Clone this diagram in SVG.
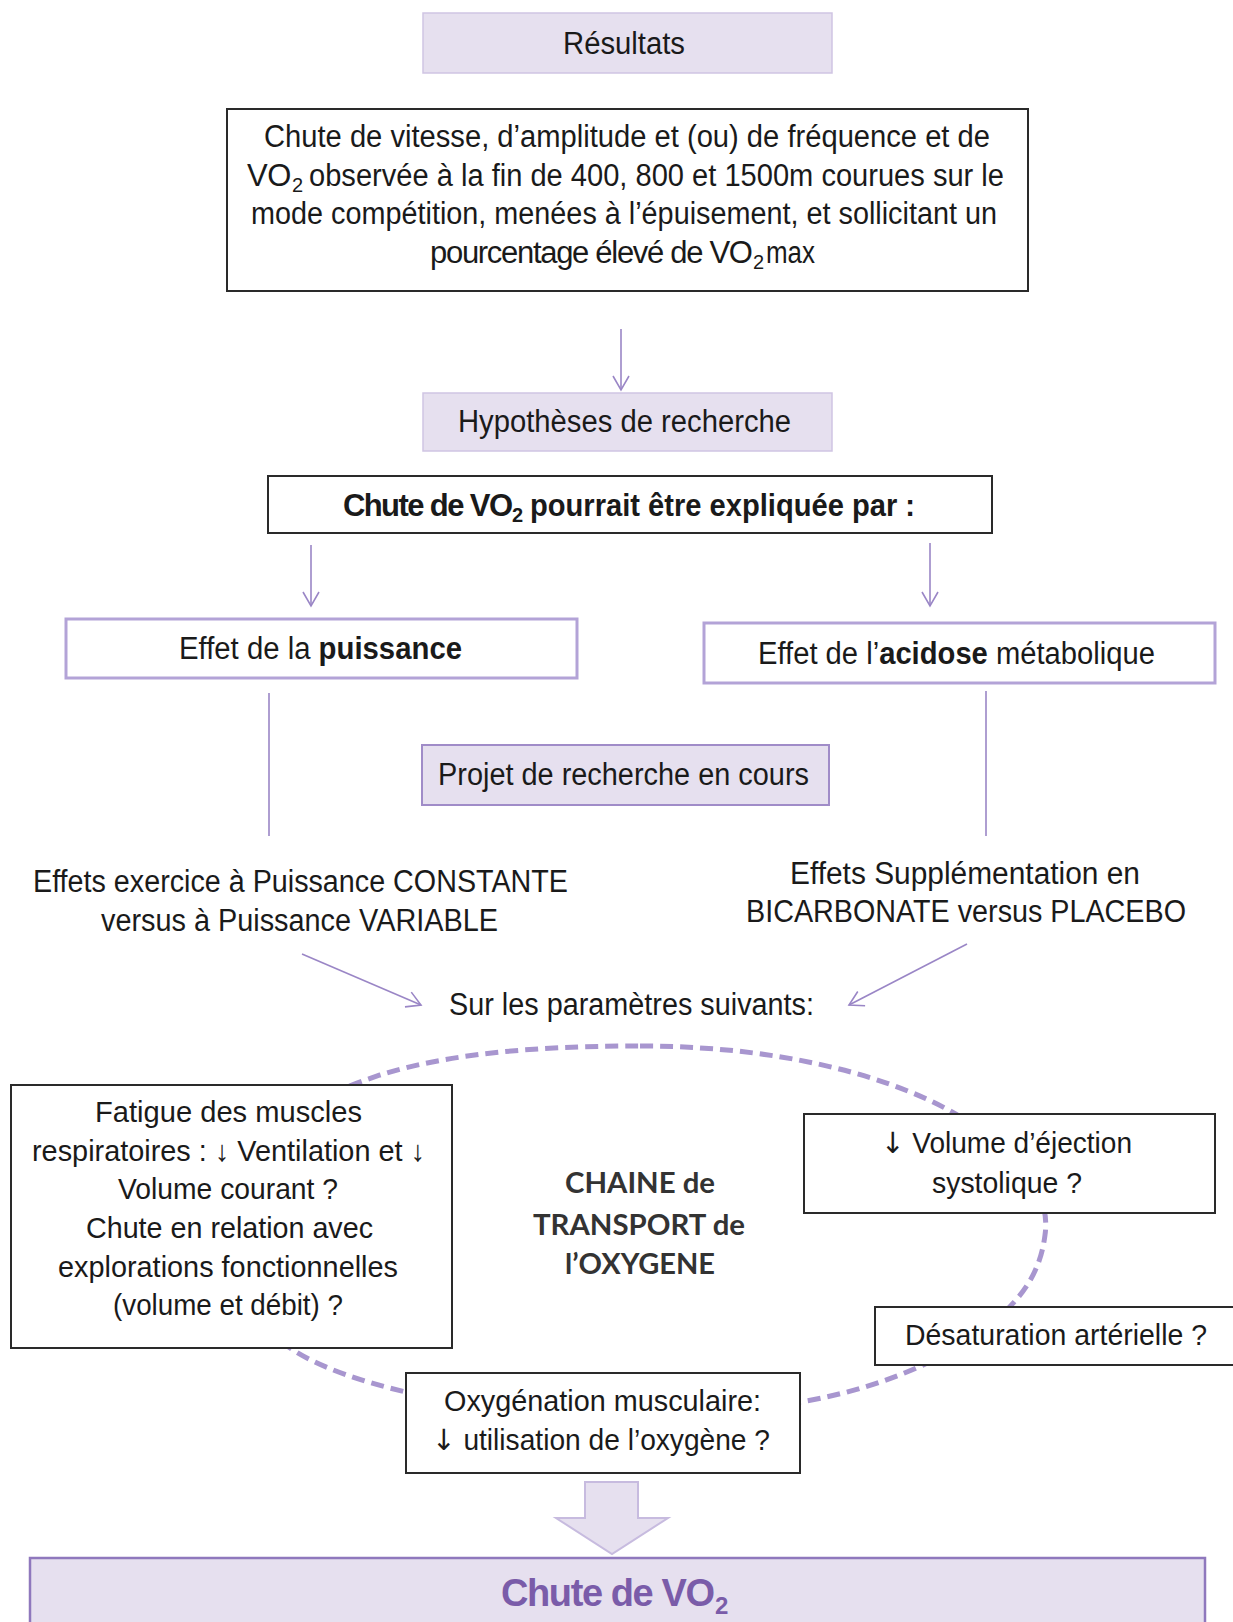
<svg xmlns="http://www.w3.org/2000/svg" width="1233" height="1622" viewBox="0 0 1233 1622">
<defs>
<style>
.t{font-family:"Liberation Sans",Arial,sans-serif;fill:#1a1a1a;font-size:31px}
.s{font-size:29px}
.sub{font-family:"Liberation Sans",Arial,sans-serif;fill:#1a1a1a;font-size:20px}
.b{font-weight:bold}
.ar{font-family:"DejaVu Sans",sans-serif}
.lav{fill:#e6e0ef;stroke:#cfc5e3;stroke-width:1.5}
.lavp{fill:#e6e0ef;stroke:#a08cc8;stroke-width:2}
.pbox{fill:#fff;stroke:#b3a3d7;stroke-width:3}
.kbox{fill:#fff;stroke:#2a2a2a;stroke-width:2}
.con{stroke:#9a86c6;stroke-width:1.6;fill:none}
.dash{stroke:#a896cf;stroke-width:5;fill:none;stroke-dasharray:13 7}
.ch{font-family:Lato,"Open Sans",sans-serif;font-size:29px;font-weight:bold;fill:#333}
</style>
<marker id="arr" markerUnits="userSpaceOnUse" markerWidth="20" markerHeight="20" refX="15" refY="9" orient="auto">
<path d="M1,1 L15,9 L1,17" fill="none" stroke="#9a86c6" stroke-width="1.6"/>
</marker>
</defs>

<g id="connectors">
<line class="con" x1="621" y1="329" x2="621" y2="390" marker-end="url(#arr)"/>
<line class="con" x1="311" y1="545" x2="311" y2="606" marker-end="url(#arr)"/>
<line class="con" x1="930" y1="543" x2="930" y2="606" marker-end="url(#arr)"/>
<line class="con" x1="269" y1="693" x2="269" y2="836"/>
<line class="con" x1="986" y1="691" x2="986" y2="836"/>
<line class="con" x1="302" y1="954" x2="421" y2="1005" marker-end="url(#arr)"/>
<line class="con" x1="967" y1="944" x2="849" y2="1005" marker-end="url(#arr)"/>
<path class="dash" d="M640,1046 C800,1046 920,1085 980,1130 C1030,1165 1050,1200 1045,1235 C1040,1275 1020,1300 990,1325 C940,1365 860,1395 780,1405 C700,1415 560,1420 470,1405 C400,1393 330,1375 290,1348 C230,1310 220,1240 240,1180 C265,1120 320,1095 380,1075 C460,1050 560,1046 640,1046 Z"/>
<path d="M585,1482 L638,1482 L638,1518 L668,1518 L612,1554 L556,1518 L585,1518 Z" fill="#e6e0ef" stroke="#c7bbdf" stroke-width="2"/>
</g>

<g id="resultats">
<rect class="lav" x="423" y="13" width="409" height="60"/>
<text class="t" x="563" y="54" textLength="122" lengthAdjust="spacingAndGlyphs">Résultats</text>
</g>

<g id="observation">
<rect class="kbox" x="227" y="109" width="801" height="182"/>
<text class="t" x="264" y="147" textLength="726" lengthAdjust="spacingAndGlyphs">Chute de vitesse, d’amplitude et (ou) de fréquence et de</text>
<text class="t" x="247" y="186" letter-spacing="-0.5">VO</text>
<text class="sub" x="292" y="192">2</text>
<text class="t" x="309" y="186" textLength="695" lengthAdjust="spacingAndGlyphs">observée à la fin de 400, 800 et 1500m courues sur le</text>
<text class="t" x="251" y="224" textLength="746" lengthAdjust="spacingAndGlyphs">mode compétition, menées à l’épuisement, et sollicitant un</text>
<text class="t" x="430" y="263" letter-spacing="-1.3">pourcentage élevé de VO</text>
<text class="sub" x="753" y="269">2</text>
<text class="t" x="766" y="263" textLength="49" lengthAdjust="spacingAndGlyphs">max</text>
</g>

<g id="hypotheses">
<rect class="lav" x="423" y="393" width="409" height="58"/>
<text class="t" x="458" y="432" textLength="333" lengthAdjust="spacingAndGlyphs">Hypothèses de recherche</text>
</g>

<g id="chute-pourrait">
<rect class="kbox" x="268" y="476" width="724" height="57"/>
<text class="t b" x="343" y="516" letter-spacing="-1.6">Chute de VO</text>
<text class="sub b" x="512" y="522">2</text>
<text class="t b" x="530" y="516" textLength="385" lengthAdjust="spacingAndGlyphs">pourrait être expliquée par :</text>
</g>

<g id="effet-puissance">
<rect class="pbox" x="66" y="619" width="511" height="59"/>
<text class="t" x="179" y="659" textLength="283" lengthAdjust="spacingAndGlyphs">Effet de la <tspan class="b">puissance</tspan></text>
</g>

<g id="effet-acidose">
<rect class="pbox" x="704" y="623" width="511" height="60"/>
<text class="t" x="758" y="664" textLength="397" lengthAdjust="spacingAndGlyphs">Effet de l’<tspan class="b">acidose</tspan> métabolique</text>
</g>

<g id="projet">
<rect class="lavp" x="422" y="745" width="407" height="60"/>
<text class="t" x="438" y="785" textLength="371" lengthAdjust="spacingAndGlyphs">Projet de recherche en cours</text>
</g>

<g id="effets-puissance">
<text class="t" x="33" y="892" textLength="535" lengthAdjust="spacingAndGlyphs">Effets exercice à Puissance CONSTANTE</text>
<text class="t" x="101" y="931" textLength="397" lengthAdjust="spacingAndGlyphs">versus à Puissance VARIABLE</text>
</g>

<g id="effets-bicarbonate">
<text class="t" x="790" y="884" textLength="350" lengthAdjust="spacingAndGlyphs">Effets Supplémentation en</text>
<text class="t" x="746" y="922" textLength="440" lengthAdjust="spacingAndGlyphs">BICARBONATE versus PLACEBO</text>
</g>

<g id="parametres">
<text class="t" x="449" y="1015" textLength="365" lengthAdjust="spacingAndGlyphs">Sur les paramètres suivants:</text>
</g>

<g id="fatigue">
<rect class="kbox" x="11" y="1085" width="441" height="263"/>
<text class="t s" x="95" y="1122" textLength="267" lengthAdjust="spacingAndGlyphs">Fatigue des muscles</text>
<text class="t s" x="32" y="1161" textLength="393" lengthAdjust="spacingAndGlyphs">respiratoires : ↓ Ventilation et ↓</text>
<text class="t s" x="118" y="1199" textLength="220" lengthAdjust="spacingAndGlyphs">Volume courant ?</text>
<text class="t s" x="86" y="1238" textLength="287" lengthAdjust="spacingAndGlyphs">Chute en relation avec</text>
<text class="t s" x="58" y="1277" textLength="340" lengthAdjust="spacingAndGlyphs">explorations fonctionnelles</text>
<text class="t s" x="113" y="1315" textLength="230" lengthAdjust="spacingAndGlyphs">(volume et débit) ?</text>
</g>

<g id="chaine">
<text class="ch" x="565" y="1193" textLength="150" lengthAdjust="spacingAndGlyphs">CHAINE de</text>
<text class="ch" x="533" y="1235" textLength="212" lengthAdjust="spacingAndGlyphs">TRANSPORT de</text>
<text class="ch" x="565" y="1274" textLength="150" lengthAdjust="spacingAndGlyphs">l’OXYGENE</text>
</g>

<g id="volume-ejection">
<rect class="kbox" x="804" y="1114" width="411" height="99"/>
<text class="t s" x="881" y="1153" textLength="251" lengthAdjust="spacingAndGlyphs"><tspan class="ar">↓</tspan> Volume d’éjection</text>
<text class="t s" x="932" y="1193" textLength="150" lengthAdjust="spacingAndGlyphs">systolique ?</text>
</g>

<g id="desaturation">
<rect class="kbox" x="875" y="1307" width="370" height="58"/>
<text class="t s" x="905" y="1345" textLength="302" lengthAdjust="spacingAndGlyphs">Désaturation artérielle ?</text>
</g>

<g id="oxygenation">
<rect class="kbox" x="406" y="1373" width="394" height="100"/>
<text class="t s" x="444" y="1411" textLength="317" lengthAdjust="spacingAndGlyphs">Oxygénation musculaire:</text>
<text class="t s" x="432" y="1450" textLength="338" lengthAdjust="spacingAndGlyphs"><tspan class="ar">↓</tspan> utilisation de l’oxygène ?</text>
</g>

<g id="chute-vo2">
<rect x="30" y="1558" width="1175" height="80" fill="#e6e0ef" stroke="#8f78bd" stroke-width="2.5"/>
<text class="t b" style="font-size:38px;fill:#7a5ca9" x="501" y="1606" letter-spacing="-1.4">Chute de VO</text>
<text class="sub b" style="font-size:24px;fill:#7a5ca9" x="715" y="1614">2</text>
</g>
</svg>
